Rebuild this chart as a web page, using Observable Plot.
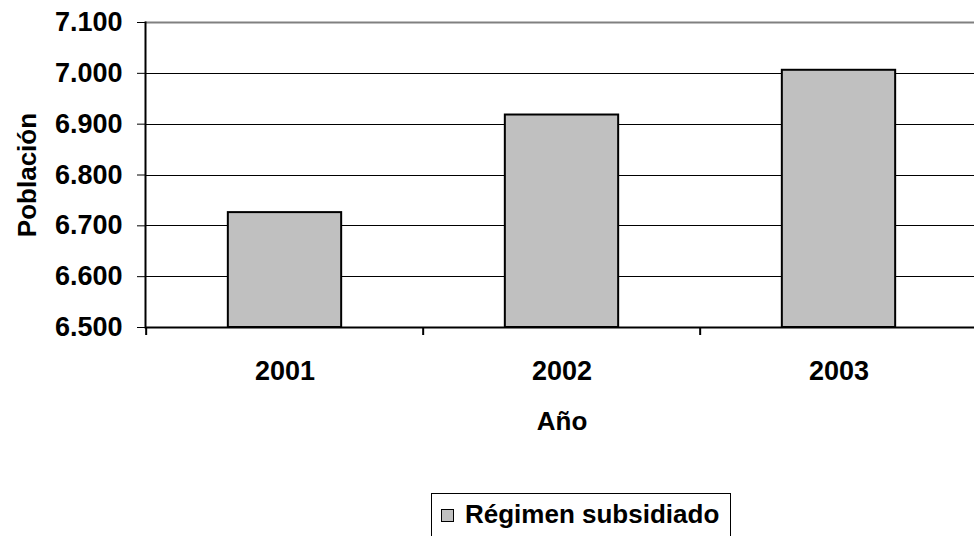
<!DOCTYPE html>
<html>
<head>
<meta charset="utf-8">
<script src="https://cdn.jsdelivr.net/npm/d3@7"></script>
<script src="https://cdn.jsdelivr.net/npm/@observablehq/plot@0.6"></script>
<style>
  html, body { margin: 0; padding: 0; background: #fff; }
  body { width: 974px; height: 536px; overflow: hidden; position: relative;
         font-family: "Liberation Sans", Arial, sans-serif; font-weight: bold; }
  #chart { position: absolute; left: 0; top: 0; }
  #legend { position: absolute; left: 431px; top: 493px; width: 300px; height: 46px;
            border: 1px solid #000; box-sizing: border-box; background: #fff; }
  #legend .sw { position: absolute; left: 9px; top: 15px; width: 11px; height: 11px;
                background: #c0c0c0; border: 1px solid #000; }
  #legend .lb { position: absolute; left: 33px; top: 5px; font-size: 26px; line-height: 30px;
                color: #000; white-space: nowrap; }
</style>
</head>
<body>
<div id="chart"></div>
<div id="legend"><div class="sw"></div><div class="lb" id="legendLabel"></div></div>
<script>
// ---- data ----
const years = ["2001", "2002", "2003"];
const poblacion = [6726, 6918, 7006];
const yTicks = [6500, 6600, 6700, 6800, 6900, 7000, 7100];
const seriesName = "Régimen subsidiado";
const yLabel = "Población";
const xLabel = "Año";

const data = years.map((y, i) => ({year: y, value: poblacion[i]}));
const fmt = d3.formatLocale({decimal: ",", thousands: ".", grouping: [3], currency: ["", ""]}).format(",.0f");

const W = 974, H = 485, mT = 22, mB = H - 327, mL = 145, mR = -4;
const plotH = H - mT - mB;
const step = (W - mL - mR) / years.length;
const barW = 114;
const inset = (step - barW) / 2;

const chart = Plot.plot({
  width: W, height: H,
  marginTop: mT, marginBottom: mB, marginLeft: mL, marginRight: mR,
  style: {fontFamily: '"Liberation Sans", Arial, sans-serif', fontWeight: "bold", color: "#000", background: "#fff", overflow: "visible"},
  x: {type: "band", domain: years, padding: 0},
  y: {domain: [6500, 7100], ticks: yTicks, tickFormat: fmt},
  marks: [
    // gridlines
    Plot.ruleY(yTicks.filter(t => t > 6500 && t < 7100), {stroke: "#000", strokeWidth: 1, shapeRendering: "crispEdges"}),
    Plot.ruleY([7100], {stroke: "#808080", strokeWidth: 2}),
    // bars
    Plot.barY(data, {x: "year", y1: 6500, y2: "value", fill: "#c0c0c0", stroke: "#000", strokeWidth: 2,
      insetLeft: inset, insetRight: inset}),
    // x axis baseline
    Plot.ruleY([6500], {stroke: "#000", strokeWidth: 2}),
    // left axis line
    Plot.frame({anchor: "left", stroke: "#000", strokeWidth: 2}),
    // category boundary tick marks
    Plot.ruleX(years, {x: d => d, dx: -step / 2, insetTop: plotH, insetBottom: -8, stroke: "#000", strokeWidth: 2}),
    // axes
    Plot.axisY({ticks: yTicks, tickFormat: fmt, tickSize: 8, tickPadding: 15, fontSize: 27, label: null, stroke: "#000", strokeWidth: 1}),
    Plot.axisX({tickSize: 0, tickPadding: 33, fontSize: 27, label: null}),
    // axis titles
    Plot.text([yLabel], {text: d => d, frameAnchor: "left", rotate: -90, dx: -118, fontSize: 26, textAnchor: "middle", lineAnchor: "middle"}),
    Plot.text([xLabel], {text: d => d, frameAnchor: "bottom", dy: 84, fontSize: 26, lineAnchor: "top"})
  ]
});
document.getElementById("chart").appendChild(chart);
document.getElementById("legendLabel").textContent = seriesName;
</script>
</body>
</html>
